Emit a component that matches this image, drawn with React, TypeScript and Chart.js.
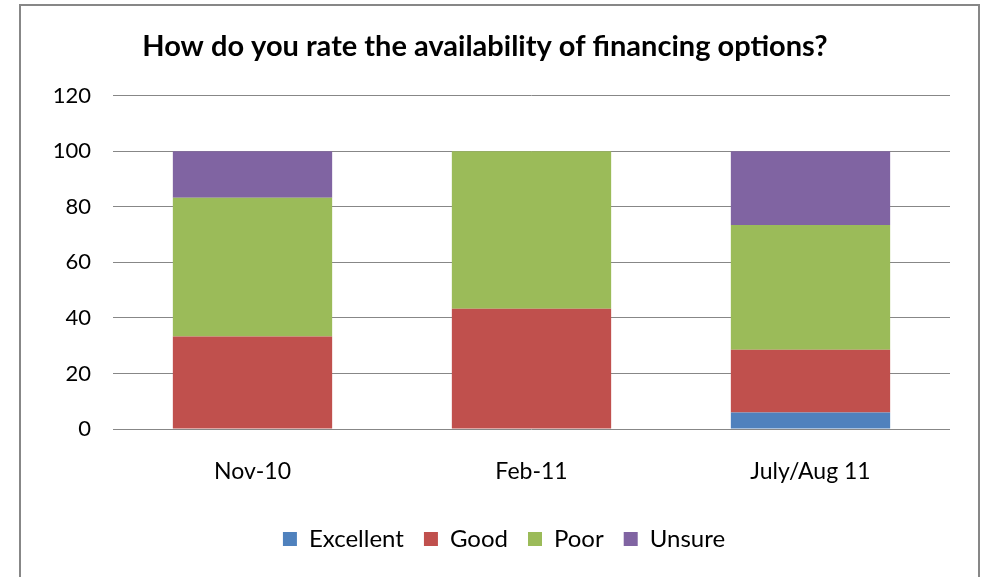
import React, { useEffect, useRef } from "react";
import { Chart, registerables } from "chart.js";

Chart.register(...registerables);

const categories = ["Nov-10", "Feb-11", "July/Aug 11"];
const excellent = [0, 0, 5.9];
const good = [33.3, 43.3, 22.6];
const poor = [50.0, 56.7, 45.0];
const unsure = [16.7, 0, 26.5];
const yTicks = [0, 20, 40, 60, 80, 100, 120];

const FONT = "Lato, 'Open Sans', sans-serif";

const framePlugin = {
  id: "frame",
  beforeDraw(chart: any) {
    const ctx = chart.ctx;
    ctx.save();
    ctx.fillStyle = "#ffffff";
    ctx.fillRect(0, 0, chart.width, chart.height);
    ctx.strokeStyle = "#878787";
    ctx.lineWidth = 2;
    ctx.strokeRect(20, 5, 959, 620);
    ctx.restore();
  },
  afterLayout(chart: any) {
    if (chart.legend) {
      chart.legend.left += 19;
      chart.legend.right += 19;
    }
  },
};

export default function App() {
  const ref = useRef<HTMLCanvasElement>(null);
  useEffect(() => {
    if (!ref.current) return;
    const chart = new Chart(ref.current, {
      type: "bar",
      data: {
        labels: categories,
        datasets: [
          { label: "Excellent", data: excellent, backgroundColor: "#4F81BD" },
          { label: "Good", data: good, backgroundColor: "#C0504D" },
          { label: "Poor", data: poor, backgroundColor: "#9BBB59" },
          { label: "Unsure", data: unsure, backgroundColor: "#8064A2" },
        ],
      },
      options: {
        animation: false,
        responsive: false,
        devicePixelRatio: 1,
        datasets: { bar: { categoryPercentage: 1, barPercentage: 0.571, borderWidth: 0 } },
        layout: { padding: { left: 20, right: 39, top: 0, bottom: 16 } },
        plugins: {
          title: {
            display: true,
            text: "How do you rate the availability of financing options?",
            color: "#000",
            font: { family: FONT, size: 29, weight: "bold" },
            padding: { top: 29, bottom: 32 },
          },
          legend: {
            position: "bottom",
            labels: {
              color: "#000",
              font: { family: FONT, size: 24 },
              boxWidth: 14,
              boxHeight: 14,
              padding: 20,
            },
          },
          tooltip: { enabled: false },
        },
        scales: {
          x: {
            stacked: true,
            grid: { display: false, drawTicks: false },
            border: { display: false },
            ticks: { color: "#000", font: { family: FONT, size: 23 }, padding: 29 },
            afterFit: (scale: any) => {
              scale.height = 78;
            },
          },
          y: {
            stacked: true,
            min: 0,
            max: 120,
            afterBuildTicks: (scale: any) => {
              scale.ticks = yTicks.map((v) => ({ value: v }));
            },
            afterFit: (scale: any) => {
              scale.width = 93;
            },
            grid: { color: "#878787", lineWidth: 1, drawTicks: false },
            border: { display: false },
            ticks: { color: "#000", font: { family: FONT, size: 22 }, padding: 22 },
          },
        },
      },
      plugins: [framePlugin],
    });
    return () => chart.destroy();
  }, []);
  return (
    <div style={{ position: "absolute", left: 0, top: 0, width: 989, height: 577 }}>
      <canvas ref={ref} width={989} height={577} style={{ width: 989, height: 577 }} />
    </div>
  );
}
